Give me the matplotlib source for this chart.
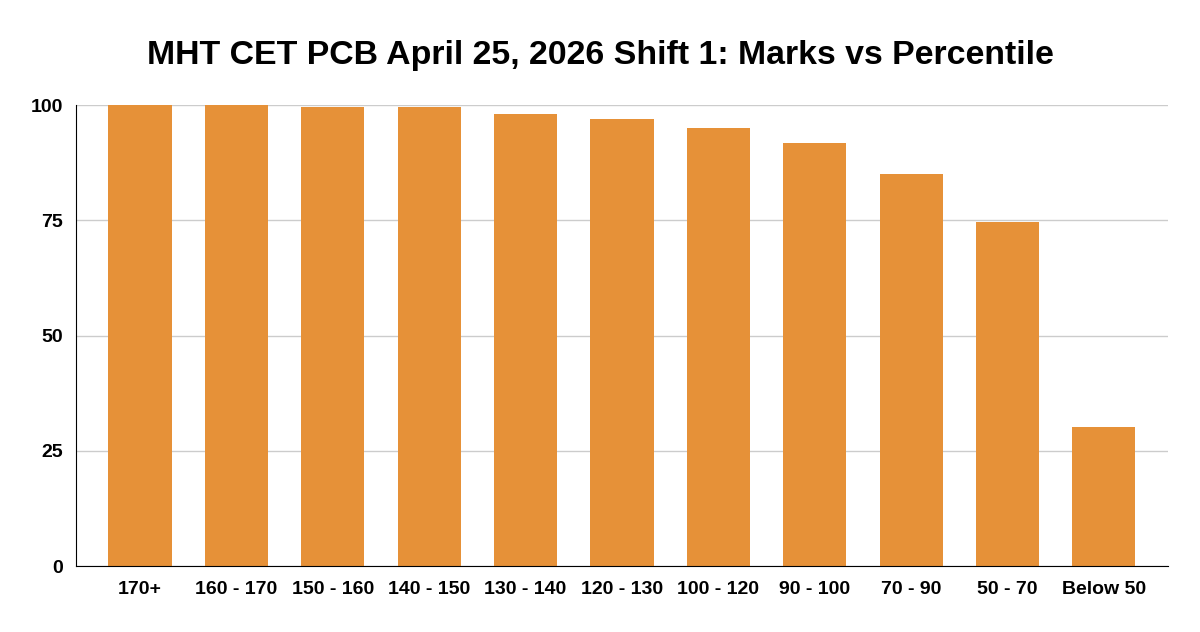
import matplotlib.pyplot as plt

plt.rcParams['font.family'] = ['Liberation Sans', 'DejaVu Sans']

# Marks range vs percentile
marks_ranges = ['170+', '160 - 170', '150 - 160', '140 - 150', '130 - 140',
                '120 - 130', '100 - 120', '90 - 100', '70 - 90', '50 - 70',
                'Below 50']
percentiles = [99.9, 99.9, 99.6, 99.5, 98.1, 96.9, 95.0, 91.8, 85.0, 74.7, 30.1]
y_ticks = [0, 25, 50, 75, 100]

bar_color = '#E69138'

fig = plt.figure(figsize=(12, 6.32), dpi=100)
ax = fig.add_axes([0.0633, 0.1044, 0.91, 0.7294])

x = range(len(marks_ranges))
ax.bar(x, percentiles, width=0.655, color=bar_color, zorder=3)

ax.set_xlim(-0.665, len(marks_ranges) - 1 + 0.665)
ax.set_ylim(0, 100)
ax.set_yticks(y_ticks)
ax.set_xticks(list(x))
ax.set_xticklabels(marks_ranges)

for lbl in ax.get_xticklabels() + ax.get_yticklabels():
    lbl.set_fontweight('bold')
    lbl.set_fontsize(14)

ax.tick_params(axis='both', length=0)
ax.tick_params(axis='x', pad=11)
ax.tick_params(axis='y', pad=9.5)

ax.grid(axis='y', color='#cccccc', linewidth=1, zorder=0)
for side in ['top', 'right']:
    ax.spines[side].set_visible(False)
ax.spines['left'].set_color('black')
ax.spines['bottom'].set_color('black')
ax.spines['left'].set_zorder(4)
ax.spines['bottom'].set_zorder(4)

fig.text(0.5, 0.8987, 'MHT CET PCB April 25, 2026 Shift 1: Marks vs Percentile',
         fontsize=24.4, fontweight='bold', ha='center', va='baseline')

plt.savefig('out.png', dpi=100)
plt.close()
